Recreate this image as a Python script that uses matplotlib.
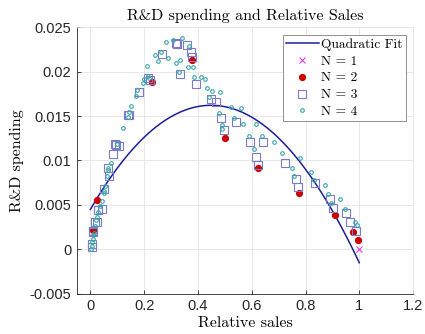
import numpy as np
import matplotlib
matplotlib.use("Agg")
import matplotlib.pyplot as plt
from matplotlib.lines import Line2D

# ---------------- data ----------------
fit_coef = [-0.0582, 0.0522, 0.0045]   # quadratic fit (x^2, x, 1)
fit_range = [0.0, 1.0]

n1_x = [1.0]
n1_y = [0.0]

n2_x = [0.011, 0.026, 0.228, 0.378, 0.500, 0.624, 0.775, 0.908, 0.976, 0.995]
n2_y = [0.0022, 0.0056, 0.0188, 0.0213, 0.0125, 0.0091, 0.0064, 0.0039, 0.0020, 0.0011]

n3_x = [0.005, 0.007, 0.009, 0.011, 0.018, 0.024, 0.027, 0.029, 0.042, 0.052,
        0.067, 0.070, 0.083, 0.092, 0.095, 0.107, 0.139, 0.142, 0.179, 0.182,
        0.214, 0.223, 0.267, 0.319, 0.323, 0.360, 0.376, 0.379, 0.335, 0.394,
        0.449, 0.466, 0.485, 0.498, 0.541, 0.593, 0.643, 0.616, 0.623, 0.725,
        0.763, 0.771, 0.836, 0.890, 0.902, 0.952, 0.967, 0.989]
n3_y = [0.0003, 0.0006, 0.0020, 0.0021, 0.0031, 0.0031, 0.0044, 0.0044, 0.0046, 0.0068,
        0.0091, 0.0083, 0.0107, 0.0118, 0.0117, 0.0116, 0.0151, 0.0151, 0.0177, 0.0177,
        0.0193, 0.0191, 0.0220, 0.0232, 0.0231, 0.0230, 0.0222, 0.0216, 0.0197, 0.0186,
        0.0169, 0.0166, 0.0148, 0.0134, 0.0143, 0.0121, 0.0121, 0.0104, 0.0095, 0.0097,
        0.0079, 0.0070, 0.0075, 0.0057, 0.0047, 0.0041, 0.0031, 0.0021]

n4_x = [0.004, 0.005, 0.006, 0.009, 0.011, 0.015, 0.018, 0.021, 0.026, 0.030,
        0.036, 0.042, 0.049, 0.049, 0.055, 0.061, 0.064, 0.067, 0.077, 0.098,
        0.121, 0.139, 0.145, 0.150, 0.169, 0.173, 0.196, 0.198, 0.210, 0.242,
        0.252, 0.261, 0.288, 0.283, 0.308, 0.317, 0.341, 0.366, 0.332, 0.364,
        0.381, 0.329, 0.385, 0.410, 0.426, 0.435, 0.453, 0.482, 0.441, 0.522,
        0.479, 0.535, 0.491, 0.491, 0.560, 0.568, 0.616, 0.588, 0.637, 0.684,
        0.609, 0.713, 0.750, 0.778, 0.759, 0.821, 0.830, 0.871, 0.883, 0.930,
        0.896, 0.946, 0.983, 0.990, 0.215, 0.219]
n4_y = [0.0001, 0.0004, 0.0008, 0.0012, 0.0016, 0.0019, 0.0026, 0.0033, 0.0036, 0.0042,
        0.0049, 0.0055, 0.0063, 0.0066, 0.0071, 0.0082, 0.0089, 0.0092, 0.0097, 0.0119,
        0.0137, 0.0149, 0.0155, 0.0161, 0.0173, 0.0179, 0.0187, 0.0192, 0.0206, 0.0219,
        0.0212, 0.0222, 0.0215, 0.0233, 0.0236, 0.0210, 0.0238, 0.0229, 0.0213, 0.0205,
        0.0205, 0.0200, 0.0194, 0.0194, 0.0192, 0.0181, 0.0178, 0.0177, 0.0171, 0.0160,
        0.0153, 0.0148, 0.0140, 0.0135, 0.0159, 0.0141, 0.0141, 0.0128, 0.0128, 0.0121,
        0.0113, 0.0108, 0.0092, 0.0103, 0.0083, 0.0087, 0.0078, 0.0072, 0.0062, 0.0057,
        0.0052, 0.0046, 0.0031, 0.0027, 0.0195, 0.0193]

title = "R&D spending and Relative Sales"
xlabel = "Relative sales"
ylabel = "R&D spending"
legend_labels = ["Quadratic Fit", "N = 1", "N = 2", "N = 3", "N = 4"]
xticks = [0, 0.2, 0.4, 0.6, 0.8, 1.0, 1.2]
xticklabels = ["0", "0.2", "0.4", "0.6", "0.8", "1", "1.2"]
yticks = [-0.005, 0, 0.005, 0.01, 0.015, 0.02, 0.025]
yticklabels = ["-0.005", "0", "0.005", "0.01", "0.015", "0.02", "0.025"]

# ---------------- plot ----------------
serif = "cmr10"
tickfont = "Liberation Sans"

fig = plt.figure(figsize=(4.25, 3.34), dpi=100)
ax = fig.add_axes([0.181, 0.12, 0.791, 0.799])

c_fit = "#1e1e9a"
c_n1 = "#e040e0"
c_n2 = "#cc0000"
c_n3 = "#7b7bc8"
c_n4 = "#3aa6a6"

xf = np.linspace(fit_range[0], fit_range[1], 200)
ax.plot(xf, np.polyval(fit_coef, xf), color=c_fit, lw=1.1, zorder=3)
ax.plot(n1_x, n1_y, ls="none", marker="x", ms=4, mew=0.8, color=c_n1, zorder=4)
ax.plot(n2_x, n2_y, ls="none", marker="o", ms=4.2, color=c_n2, mec=c_n2, zorder=5)
ax.plot(n3_x, n3_y, ls="none", marker="s", ms=6.3, mfc="none", mec=c_n3, mew=0.8, zorder=6)
ax.plot(n4_x, n4_y, ls="none", marker="o", ms=2.6, mfc="none", mec=c_n4, mew=0.8, zorder=7)

ax.set_xlim(-0.05, 1.2)
ax.set_ylim(-0.005, 0.025)
ax.set_xticks(xticks)
ax.set_xticklabels(xticklabels, fontfamily=tickfont, fontsize=10.5)
ax.set_yticks(yticks)
ax.set_yticklabels(yticklabels, fontfamily=tickfont, fontsize=10.5)
ax.tick_params(direction="in", length=3, width=0.6, color="#262626", labelcolor="#262626", pad=4)
ax.tick_params(top=False, right=False)
ax.grid(True, color="#e4e4e4", lw=0.6)
ax.set_axisbelow(True)
for s in ["top", "right"]:
    ax.spines[s].set_color("#e4e4e4")
    ax.spines[s].set_linewidth(0.6)
for s in ["left", "bottom"]:
    ax.spines[s].set_color("#262626")
    ax.spines[s].set_linewidth(0.6)

ax.set_title(title, fontfamily=serif, fontsize=11.5, pad=5)
ax.set_xlabel(xlabel, fontfamily=serif, fontsize=11.5, labelpad=2)
ax.set_ylabel(ylabel, fontfamily=serif, fontsize=11.5, labelpad=4)

handles = [
    Line2D([], [], color=c_fit, lw=1.1),
    Line2D([], [], ls="none", marker="x", ms=4, mew=0.8, color=c_n1),
    Line2D([], [], ls="none", marker="o", ms=4.2, color=c_n2),
    Line2D([], [], ls="none", marker="s", ms=6.3, mfc="none", mec=c_n3, mew=0.8),
    Line2D([], [], ls="none", marker="o", ms=2.6, mfc="none", mec=c_n4, mew=0.8),
]
leg = ax.legend(handles, legend_labels, loc="upper right", bbox_to_anchor=(0.978, 0.97),
                prop={"family": serif, "size": 9.7}, frameon=True, fancybox=False,
                edgecolor="#808080", framealpha=1, borderpad=0.22, labelspacing=0.33,
                handlelength=2.4, handletextpad=0.2, borderaxespad=0.0)
leg.get_frame().set_linewidth(0.6)

fig.savefig("out.png", dpi=100)
